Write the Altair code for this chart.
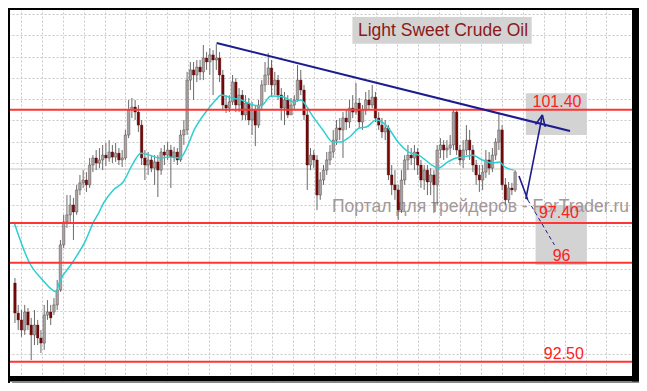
import altair as alt
import pandas as pd

# ---------------- data ----------------
open_ = [95.28, 94.22, 93.98, 93.62, 94.26, 93.80, 93.45, 93.80, 93.34, 93.16,
         94.15, 94.26, 94.26, 94.51, 95.04, 96.63, 97.44, 97.69, 98.04, 97.79,
         98.57, 98.82, 98.92, 98.75, 99.45, 99.70, 99.52, 99.63, 99.80, 99.70,
         99.91, 99.73, 99.87, 99.63, 99.70, 100.51, 101.39, 101.50, 101.32, 100.86,
         99.70, 99.45, 99.63, 99.34, 99.56, 99.27, 99.91, 99.80, 99.98, 99.73,
         99.91, 99.63, 100.51, 100.69, 102.45, 102.81, 102.63, 102.91, 102.74, 103.23,
         103.09, 103.34, 103.16, 103.23, 102.63, 101.57, 101.46, 101.68, 102.38, 101.57,
         101.92, 101.22, 101.64, 101.04, 101.39, 100.86, 101.57, 102.28, 102.63, 102.88,
         102.28, 102.45, 101.92, 101.46, 101.75, 101.22, 101.57, 101.75, 102.45, 102.10,
         101.22, 99.45, 99.80, 99.63, 98.39, 98.92, 99.27, 99.63, 99.91, 100.33,
         100.76, 100.69, 101.11, 100.97, 101.46, 101.32, 101.64, 100.97, 101.39, 101.75,
         101.57, 101.85, 101.11, 100.86, 100.62, 100.76, 99.10, 98.75, 98.57, 97.86,
         98.92, 99.63, 99.80, 99.70, 99.91, 99.45, 98.92, 99.27, 98.85, 99.10,
         98.75, 99.98, 100.16, 99.98, 100.05, 100.16, 101.32, 99.98, 99.63, 99.98,
         100.33, 99.98, 99.45, 99.10, 98.92, 99.20, 99.63, 99.34, 99.80, 100.26,
         100.69, 98.75, 98.22, 98.64, 98.57]
close = [94.22, 93.98, 93.62, 94.26, 93.80, 93.45, 93.80, 93.34, 93.16, 94.15,
         94.26, 94.05, 94.51, 95.04, 96.63, 97.44, 97.69, 98.04, 97.79, 98.57,
         98.82, 98.92, 98.75, 99.45, 99.70, 99.52, 99.63, 99.80, 99.70, 99.91,
         99.73, 99.87, 99.63, 99.70, 100.51, 101.39, 101.50, 101.32, 100.86, 99.70,
         99.45, 99.63, 99.34, 99.56, 99.27, 99.91, 99.80, 99.98, 99.73, 99.91,
         99.63, 100.51, 100.69, 102.45, 102.81, 102.63, 102.91, 102.74, 103.23, 103.09,
         103.34, 103.16, 103.23, 102.63, 101.57, 101.46, 101.68, 102.38, 101.57, 101.92,
         101.22, 101.64, 101.04, 101.39, 100.86, 101.57, 102.28, 102.63, 102.88, 102.28,
         102.45, 101.92, 101.46, 101.75, 101.22, 101.57, 101.75, 102.45, 102.10, 101.22,
         99.45, 99.80, 99.63, 98.39, 98.92, 99.27, 99.63, 99.91, 100.33, 100.76,
         100.69, 101.11, 100.97, 101.46, 101.32, 101.64, 100.97, 101.39, 101.75, 101.57,
         101.85, 101.11, 100.86, 100.62, 100.76, 99.10, 98.75, 98.57, 97.86, 98.92,
         99.63, 99.80, 99.70, 99.91, 99.45, 98.92, 99.27, 98.85, 99.10, 98.75,
         99.98, 100.16, 99.98, 100.05, 100.16, 101.32, 99.98, 99.63, 99.98, 100.33,
         99.98, 99.45, 99.10, 98.92, 99.20, 99.63, 99.34, 99.80, 100.26, 100.69,
         98.75, 98.22, 98.64, 98.57, 99.20]
high = [95.46, 94.51, 94.33, 94.51, 94.40, 94.05, 94.33, 93.98, 93.62, 94.51,
        94.68, 94.51, 94.75, 95.39, 96.80, 97.69, 98.39, 98.39, 98.29, 98.75,
        99.10, 99.27, 99.20, 99.70, 99.80, 99.98, 100.05, 100.16, 100.23, 100.33,
        100.16, 100.23, 100.05, 99.98, 100.69, 101.75, 101.82, 101.75, 101.57, 101.04,
        99.98, 99.91, 99.80, 99.80, 99.80, 100.05, 100.16, 100.26, 100.16, 100.09,
        100.05, 100.69, 101.04, 102.74, 103.09, 103.09, 103.16, 103.16, 103.69, 103.44,
        103.58, 103.51, 103.72, 103.44, 102.81, 101.92, 101.92, 102.63, 102.52, 102.17,
        102.10, 101.92, 101.82, 101.68, 101.57, 101.75, 102.45, 103.09, 103.41, 103.16,
        102.74, 102.63, 102.17, 102.03, 101.92, 101.82, 101.92, 102.98, 102.81, 102.28,
        101.39, 100.05, 99.98, 99.80, 99.20, 99.45, 99.91, 100.16, 100.69, 101.04,
        101.11, 101.32, 101.39, 101.75, 101.92, 102.35, 101.82, 101.57, 102.03, 102.10,
        102.28, 102.03, 101.32, 101.11, 101.04, 100.86, 99.45, 99.27, 98.75, 99.27,
        99.80, 100.16, 100.05, 100.16, 100.05, 99.63, 99.45, 99.45, 99.34, 99.27,
        100.16, 100.40, 100.33, 100.33, 100.51, 101.39, 101.39, 100.16, 100.33, 100.86,
        100.69, 100.16, 99.63, 99.45, 99.45, 99.98, 99.91, 100.05, 100.40, 101.29,
        100.86, 98.99, 98.85, 98.82, 99.27]
low = [93.87, 93.62, 93.38, 93.45, 93.62, 92.56, 93.09, 93.09, 92.81, 92.92,
       93.98, 93.80, 94.15, 94.33, 94.97, 96.52, 97.23, 97.44, 96.80, 97.69,
       98.39, 98.64, 98.50, 98.64, 99.20, 99.27, 99.34, 99.27, 99.42, 99.56,
       99.52, 99.56, 99.45, 99.38, 99.63, 100.40, 101.11, 101.04, 100.62, 99.45,
       98.92, 99.10, 99.20, 98.75, 98.32, 99.10, 99.45, 99.63, 98.64, 99.56,
       99.45, 99.56, 100.16, 100.51, 102.10, 101.75, 102.38, 102.45, 102.45, 102.81,
       102.63, 101.92, 102.81, 102.38, 101.39, 101.29, 101.32, 101.57, 101.32, 101.32,
       101.04, 101.04, 100.86, 100.51, 100.12, 100.76, 101.39, 102.03, 102.28, 101.85,
       101.92, 101.75, 101.04, 100.86, 101.11, 101.32, 101.39, 101.68, 101.92, 101.04,
       98.57, 99.27, 99.34, 97.86, 98.22, 98.75, 99.10, 99.45, 99.70, 100.16,
       100.33, 99.70, 100.69, 100.76, 101.11, 101.22, 100.76, 100.69, 101.22, 101.39,
       101.46, 100.97, 100.69, 100.40, 100.33, 98.92, 98.39, 98.22, 97.51, 97.76,
       98.75, 99.27, 99.45, 99.27, 99.10, 98.64, 98.57, 98.39, 98.39, 97.76,
       98.04, 99.70, 99.63, 99.70, 99.80, 99.98, 99.80, 99.45, 99.34, 99.80,
       99.63, 99.20, 98.75, 98.50, 98.57, 98.99, 99.10, 99.20, 99.63, 99.98,
       98.57, 98.04, 98.11, 98.39, 98.50]

# moving average as drawn (bar position, price)
ma_idx = [-0.3, 4.5, 8.5, 11.5, 12.7, 13.6, 17.6, 21.8, 24.2, 25.8, 27.3, 30.3, 33.3,
          36.4, 38.8, 41.5, 44.5, 47.6, 50.6, 51.5, 55.5, 59.7, 61.5, 63.6, 66.7,
          69.7, 73.3, 75.8, 78.8, 82.7, 85.8, 87.9, 91.8, 94.8, 97.9, 100.0, 103.0,
          106.1, 108.2, 111.2, 114.2, 118.2, 121.2, 124.2, 129.4, 130.3, 133.3,
          135.8, 137.9, 140.9, 143.9, 147.0, 149.1, 150.9, 153.6]
ma_val = [97.44, 95.99, 95.39, 95.04, 94.97, 95.28, 95.99, 96.80, 97.44, 97.76, 98.11,
          98.57, 98.85, 99.52, 99.87, 99.80, 99.70, 99.73, 99.70, 99.77, 100.76,
          101.46, 101.71, 101.92, 101.82, 101.75, 101.57, 101.54, 101.89, 101.85,
          101.68, 101.75, 101.15, 100.69, 100.26, 100.26, 100.44, 100.76, 100.79,
          101.04, 100.86, 100.23, 99.91, 99.80, 99.38, 99.34, 99.56, 99.70, 99.73,
          99.80, 99.63, 99.52, 99.56, 99.38, 99.27]

levels = [101.40, 97.40, 96.00, 92.50]
last_price = 99.31

trend_idx = [62.1, 170.9]
trend_val = [103.76, 100.65]

# arrow segments: x, y, x2, y2, dashed
seg_x = [157.3, 162.4, 162.4, 155.2, 157.9]
seg_y = [98.25, 101.22, 101.22, 99.06, 98.22]
seg_x2 = [162.4, 160.27, 163.27, 157.9, 166.1]
seg_y2 = [101.22, 100.88, 100.80, 98.22, 96.63]
seg_dash = ["solid", "solid", "solid", "solid", "dash"]

# grey label boxes
box_x = [103.9, 157.3, 160.3]
box_x2 = [159.1, 176.1, 176.1]
box_y = [104.68, 101.99, 98.04]
box_y2 = [103.73, 100.51, 95.92]

# red price labels
lab_text = ["101.40", "97.40", "96", "92.50"]
lab_x = [166.9, 167.5, 168.3, 169.0]
lab_y = [101.50, 97.58, 96.06, 92.60]

title_text = "Light Sweet Crude Oil"
title_x, title_y = 131.8, 104.17
wm_text = "Портал для трейдеров - ForTrader.ru"
wm_x, wm_y = 97.6, 97.79

# ---------------- chart ----------------
W, H = 631, 375
xs = alt.Scale(domain=[-0.6061, 190.6061], nice=False, zero=False)
ys = alt.Scale(domain=[91.751, 104.997], nice=False, zero=False)

grid_x = [(6 + 21.25 * k) / 3.3 for k in range(29)]
grid_y = [92.78 + 0.75 * k for k in range(17)]

ax_x = alt.Axis(values=grid_x, grid=True, labels=False, ticks=False, domain=False,
                title=None, gridColor="#c8c8c8", gridDash=[2, 2], gridWidth=1)
ax_y = alt.Axis(values=grid_y, grid=True, labels=False, ticks=False, domain=False,
                title=None, gridColor="#c8c8c8", gridDash=[2, 2], gridWidth=1)


def X(f):
    return alt.X(f, type="quantitative", scale=xs, axis=ax_x)


def Y(f):
    return alt.Y(f, type="quantitative", scale=ys, axis=ax_y)


df = pd.DataFrame({"i": list(range(len(close))), "o": open_, "h": high, "l": low, "c": close})
df["lo"] = df[["o", "c"]].min(axis=1)
df["hi"] = df[["o", "c"]].max(axis=1)
df["dir"] = ["up" if c >= o else "down" for o, c in zip(open_, close)]

ma_df = pd.DataFrame({"i": ma_idx, "v": ma_val})
lev_df = pd.DataFrame({"v": levels})
last_df = pd.DataFrame({"v": [last_price]})
trend_df = pd.DataFrame({"i": trend_idx, "v": trend_val})
seg_df = pd.DataFrame({"x": seg_x, "y": seg_y, "x2": seg_x2, "y2": seg_y2, "d": seg_dash})
box_df = pd.DataFrame({"x": box_x, "x2": box_x2, "y": box_y, "y2": box_y2})
lab_df = pd.DataFrame({"t": lab_text, "x": lab_x, "y": lab_y})
title_df = pd.DataFrame({"t": [title_text], "x": [title_x], "y": [title_y]})
wm_df = pd.DataFrame({"t": [wm_text], "x": [wm_x], "y": [wm_y]})

boxes = alt.Chart(box_df).mark_rect(color="#d3d3d3").encode(
    x=X("x"), x2="x2", y=Y("y"), y2="y2")

last_line = alt.Chart(last_df).mark_rule(color="#c4c4c4", strokeWidth=1).encode(y=Y("v"))

watermark = alt.Chart(wm_df).mark_text(
    align="left", baseline="alphabetic", font="Liberation Sans", fontSize=17.5,
    color="#a39797").encode(x=X("x"), y=Y("y"), text="t")

wicks = alt.Chart(df).mark_rule(color="#6a6a6a", strokeWidth=1).encode(
    x=X("i"), y=Y("l"), y2="h")

bodies = alt.Chart(df).mark_bar(size=2.6, stroke="#3a1010", strokeWidth=0.3).encode(
    x=X("i"), y=Y("lo"), y2="hi",
    color=alt.Color("dir:N", scale=alt.Scale(domain=["up", "down"],
                                             range=["#a4a4a4", "#760808"]), legend=None))

ma_line = alt.Chart(ma_df).mark_line(color="#2ccfd2", strokeWidth=1.5, interpolate="monotone").encode(
    x=X("i"), y=Y("v"))

lev_lines = alt.Chart(lev_df).mark_rule(color="#ff3434", strokeWidth=2).encode(y=Y("v"))

trend = alt.Chart(trend_df).mark_line(color="#1c1c8e", strokeWidth=2).encode(
    x=X("i"), y=Y("v"))

segs = alt.Chart(seg_df).mark_rule(color="#1c1c8e").encode(
    x=X("x"), y=Y("y"), x2="x2", y2="y2",
    strokeDash=alt.StrokeDash("d:N", scale=alt.Scale(domain=["solid", "dash"],
                                                      range=[[1, 0], [4, 3]]), legend=None),
    strokeWidth=alt.StrokeWidth("d:N", scale=alt.Scale(domain=["solid", "dash"],
                                                        range=[1.6, 1]), legend=None))

labels = alt.Chart(lab_df).mark_text(
    align="center", baseline="alphabetic", font="Liberation Sans", fontSize=16,
    color="#ff2020").encode(x=X("x"), y=Y("y"), text="t")

title = alt.Chart(title_df).mark_text(
    align="center", baseline="middle", font="Liberation Sans", fontSize=17.5,
    color="#8b1a1a").encode(x=X("x"), y=Y("y"), text="t")

frame = alt.Chart(alt.Data(values=[{"a": 1}])).mark_rect(color="black")
f_left = frame.encode(x=alt.value(0), x2=alt.value(2), y=alt.value(0), y2=alt.value(H))
f_top = frame.encode(x=alt.value(0), x2=alt.value(W), y=alt.value(0), y2=alt.value(2))
f_right = frame.encode(x=alt.value(624), x2=alt.value(W), y=alt.value(0), y2=alt.value(H))
f_bottom = frame.encode(x=alt.value(0), x2=alt.value(W), y=alt.value(368), y2=alt.value(373.5))
f_shadow = alt.Chart(alt.Data(values=[{"a": 1}])).mark_rect(color="#8a8a8a").encode(
    x=alt.value(4), x2=alt.value(W), y=alt.value(373.5), y2=alt.value(H))

chart = alt.layer(
    boxes, last_line, watermark, wicks, bodies, ma_line, lev_lines, trend, segs,
    labels, title, f_left, f_top, f_right, f_bottom, f_shadow
).properties(
    width=W, height=H, autosize="none", padding=0, background="white"
).configure_view(stroke=None)

chart.save("out.html", embed_options={"renderer": "svg", "actions": False})
